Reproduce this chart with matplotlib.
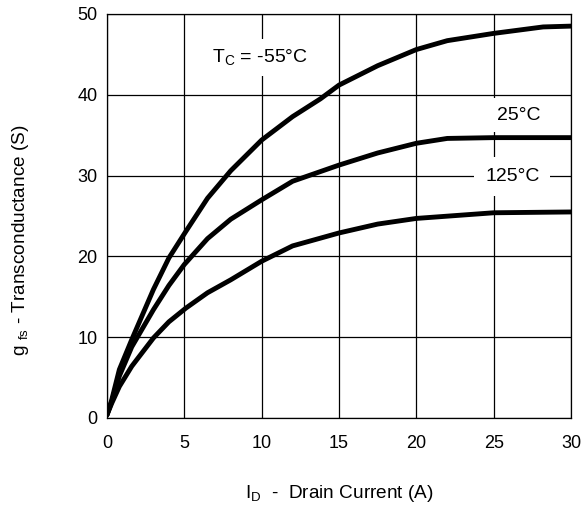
import matplotlib
matplotlib.use("Agg")
import matplotlib.pyplot as plt

plt.rcParams['font.family'] = ['Liberation Sans', 'DejaVu Sans']

# Transconductance vs drain current at three case temperatures
id_m55 = [0, 0.3, 0.8, 1.6, 3.0, 4.0, 5.1, 6.5, 8.0, 10.0, 12.0, 13.8, 15.0, 17.5, 20.0, 22.0, 25.0, 28.2, 30]
gfs_m55 = [0.4, 2.2, 6.0, 9.7, 15.9, 19.8, 23.1, 27.2, 30.6, 34.4, 37.3, 39.5, 41.2, 43.6, 45.6, 46.7, 47.6, 48.4, 48.5]

id_25 = [0, 0.3, 0.8, 1.6, 3.0, 4.0, 5.0, 6.5, 8.0, 10.0, 12.0, 15.0, 17.5, 20.0, 22.0, 25.0, 30]
gfs_25 = [0.4, 2.0, 5.2, 8.8, 13.4, 16.4, 19.0, 22.2, 24.6, 27.0, 29.3, 31.3, 32.8, 34.0, 34.6, 34.7, 34.7]

id_125 = [0, 0.3, 0.8, 1.6, 3.0, 4.0, 5.1, 6.5, 8.0, 10.0, 12.0, 15.0, 17.5, 20.0, 25.0, 30]
gfs_125 = [0.4, 1.8, 3.9, 6.4, 9.9, 11.9, 13.6, 15.5, 17.1, 19.4, 21.3, 22.9, 24.0, 24.7, 25.4, 25.5]

x_ticks = [0, 5, 10, 15, 20, 25, 30]
y_ticks = [0, 10, 20, 30, 40, 50]

fig = plt.figure(figsize=(5.82, 5.07), dpi=100)
ax = fig.add_axes([107 / 582, 1 - 418 / 507, 464 / 582, 404 / 507])

for xs, ys in [(id_m55, gfs_m55), (id_25, gfs_25), (id_125, gfs_125)]:
    ax.plot(xs, ys, color='black', linewidth=3.5, solid_capstyle='round',
            solid_joinstyle='round', zorder=3)

ax.set_xlim(0, 30)
ax.set_ylim(0, 50)
ax.set_xticks(x_ticks)
ax.set_yticks(y_ticks)
ax.tick_params(length=0, labelsize=13)
ax.tick_params(axis='x', pad=12)
ax.tick_params(axis='y', pad=7)
ax.grid(True, color='black', linewidth=0.9)
ax.set_axisbelow(True)
for s in ax.spines.values():
    s.set_linewidth(0.9)

# temperature labels, white box hides the grid behind them
box = dict(facecolor='white', edgecolor='none', pad=6)
ax.text(9.9, 44.6, r'T$_\mathregular{C}$ = -55°C', fontsize=14, ha='center', va='center',
        bbox=box, zorder=4)
ax.text(26.6, 37.5, '25°C', fontsize=14, ha='center', va='center', bbox=box, zorder=4)
ax.text(26.2, 29.9, '125°C', fontsize=14, ha='center', va='center',
        bbox=dict(facecolor='white', edgecolor='none', pad=8), zorder=4)

fig.text(339 / 582, 1 - 493 / 507, r'I$_\mathregular{D}$  -  Drain Current (A)',
         fontsize=13.7, ha='center', va='center')
fig.text(21 / 582, 1 - 240 / 507, r'g $_\mathregular{fs}$ - Transconductance (S)',
         fontsize=13.7, ha='center', va='center', rotation=90)

fig.savefig('out.png', dpi=100)
